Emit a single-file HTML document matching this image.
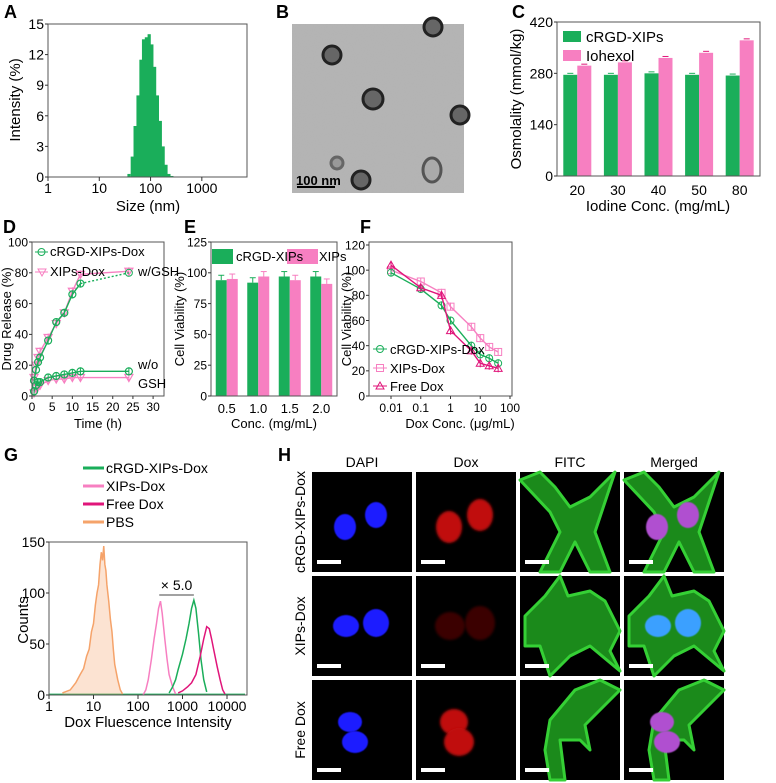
<!DOCTYPE html>
<html><head><meta charset="utf-8"><style>
body{margin:0;background:#fff;}
svg{display:block;font-family:"Liberation Sans",Arial,sans-serif;}
</style></head><body>
<svg id="fig" width="776" height="783" viewBox="0 0 776 783" xmlns="http://www.w3.org/2000/svg">
<defs>
<filter id="noise" x="0" y="0" width="100%" height="100%"><feTurbulence type="fractalNoise" baseFrequency="0.9" numOctaves="2" seed="3"/><feColorMatrix values="0 0 0 0 0.5 0 0 0 0 0.5 0 0 0 0 0.5 0 0 0 0.35 0"/></filter>
<filter id="blur1"><feGaussianBlur stdDeviation="1.2"/></filter>
<filter id="blur2"><feGaussianBlur stdDeviation="0.6"/></filter>
</defs>
<g font-weight="bold" font-size="18" fill="#000">
<text x="4" y="18">A</text>
<text x="276" y="18">B</text>
<text x="512" y="18">C</text>
<text x="3" y="233">D</text>
<text x="184" y="233">E</text>
<text x="360" y="233">F</text>
<text x="4" y="461">G</text>
<text x="278" y="461">H</text>
</g>
<g>
<rect x="292" y="24" width="172" height="169" fill="#b2b2b2"/>
<rect x="292" y="24" width="172" height="169" filter="url(#noise)"/>
<g fill="#666" stroke="#222" stroke-width="3">
<circle cx="332" cy="55" r="9"/><circle cx="373" cy="99" r="10"/><circle cx="433" cy="27" r="9"/>
<circle cx="460" cy="115" r="9"/><circle cx="337" cy="163" r="6" stroke="#666" fill="#999"/><circle cx="361" cy="180" r="9"/>
</g>
<ellipse cx="432" cy="170" rx="9" ry="12" fill="#aaa" stroke="#555" stroke-width="3"/>
<line x1="297" y1="187" x2="335" y2="187" stroke="#000" stroke-width="2"/>
<text x="296" y="185" font-size="13" font-weight="bold">100 nm</text>
</g>
<g id="charts"></g>
<g id="micro"></g>
</svg>
<script>
const sizeA=[38,44,50,57,65,73,83,94,106,120,136,155,176,200,228,260];
const intensityA=[0.3,2,5,8,11.5,13.5,13.7,14,13,10.8,8,5.5,3,1.2,0.3,0.1];
const catC=['20','30','40','50','80'];
const cRGDc=[276,276,280,276,274];
const iohexolC=[301,310,322,336,370];
const timeD=[0.5,1,1.5,2,4,6,8,10,12,24];
const cGSH=[10,17,22,25,36,48,54,66,73,80];
const xGSH=[12,20,25,29,38,47,54,68,79,81];
const cNo=[3,7,9,9,12,13,14,15,16,16];
const xNo=[2,5,6,7,10,11,11,12,12,12];
const catE=['0.5','1.0','1.5','2.0'];
const cRGDe=[94,92,97,97];
const xipsE=[95,97,94,91];
const doseF=[0.01,0.1,0.5,1,5,10,20,40];
const cF=[98,85,72,60,40,33,30,26];
const xF=[100,91,82,71,55,46,39,35];
const fF=[104,86,80,52,36,26,24,22];
const pbsX=[2,3,4,5,6,7,8,9,10,11,12,13,14,15,16,17,18,19,20,22,24,26,28,30,35,40,45];
const pbsY=[2,5,12,20,26,38,45,62,70,88,100,108,128,140,132,146,128,122,108,92,74,62,44,30,15,5,1];
const xipX=[130,150,170,200,230,260,290,320,350,400,450,500,600,700];
const xipY=[0,5,15,35,55,70,85,92,80,55,35,20,8,1];
const crgX=[500,600,700,800,1000,1200,1400,1600,1800,2000,2300,2600,3000,3500];
const crgY=[2,8,15,25,40,55,70,85,93,85,60,35,15,3];
const freeX=[800,1000,1300,1600,2000,2500,3000,3500,4000,4500,5000,6000,7000,8000,9000];
const freeY=[2,4,8,12,20,38,55,67,65,55,45,28,15,5,1];

const G='#1aae5a',P='#f77fc1',DP='#e0157a',O='#f5a36a';
const NS='http://www.w3.org/2000/svg';
const root=document.getElementById('charts');
function mk(tag,at,par){const e=document.createElementNS(NS,tag);for(const k in at)e.setAttribute(k,at[k]);(par||root).appendChild(e);return e;}
function txt(x,y,s,size,anchor,par){const e=mk('text',{x:x,y:y,'font-size':size,'text-anchor':anchor||'middle'},par);e.textContent=s;return e;}
function lin(d0,d1,r0,r1){return v=>r0+(v-d0)/(d1-d0)*(r1-r0);}
function logs(d0,d1,r0,r1){return v=>r0+(Math.log10(v)-Math.log10(d0))/(Math.log10(d1)-Math.log10(d0))*(r1-r0);}
function box(x0,y0,x1,y1,name){const e=mk('rect',{x:x0,y:y0,width:x1-x0,height:y1-y0,fill:'none',stroke:'#555','stroke-width':1});

}
function yticks(sy,vals,x0,fs){vals.forEach(v=>{mk('line',{x1:x0,x2:x0-3,y1:sy(v),y2:sy(v),stroke:'#333'});const t=txt(x0-4,sy(v)+fs*0.36,String(v),fs,'end');

});}
function xlab(x,y,s,fs){const t=txt(x,y,s,fs||14);

}
function ytitle(x,y,s,fs){const t=txt(0,0,s,fs||15);t.setAttribute('transform',`translate(${x},${y}) rotate(-90)`);

}
function xtitle(x,y,s,fs){const t=txt(x,y,s,fs||15);

}

// A
{const sx=logs(1,7600,48,247),sy=lin(0,15,177,24);
sizeA.forEach((s,i)=>{const b=mk('rect',{x:sx(s)-1.6,y:sy(intensityA[i]),width:3.2,height:177-sy(intensityA[i]),fill:G});

});
box(48,24,247,177,'plot-a');
yticks(sy,[0,3,6,9,12,15],48,14);
[1,10,100,1000].forEach(v=>{mk('line',{x1:sx(v),x2:sx(v),y1:177,y2:181,stroke:'#333'});xlab(sx(v),193,String(v));});
ytitle(20,100,'Intensity (%)');xtitle(148,211,'Size (nm)');}

// C
{const sy=lin(0,420,176,22),x0=557,x1=760,step=(x1-x0)/5;
catC.forEach((c,i)=>{const cx=x0+step*(i+0.5);
const g=mk('rect',{x:cx-14,y:sy(cRGDc[i]),width:14,height:176-sy(cRGDc[i]),fill:G});


const p=mk('rect',{x:cx,y:sy(iohexolC[i]),width:14,height:176-sy(iohexolC[i]),fill:P});


mk('line',{x1:cx-10,x2:cx-4,y1:sy(cRGDc[i]+4),y2:sy(cRGDc[i]+4),stroke:G});
mk('line',{x1:cx+4,x2:cx+10,y1:sy(iohexolC[i]+4),y2:sy(iohexolC[i]+4),stroke:DP});
xlab(cx,195,c);});
box(557,22,760,176,'plot-c');yticks(sy,[0,140,280,420],557,14);
const l1=mk('rect',{x:563,y:31,width:18,height:11,fill:G});


const l2=mk('rect',{x:563,y:50,width:18,height:11,fill:P});


txt(586,42,'cRGD-XIPs',15,'start');txt(586,61,'Iohexol',15,'start');
ytitle(521,99,'Osmolality (mmol/kg)');xtitle(658,211,'Iodine Conc. (mg/mL)');}

// D
{const sx=lin(0,32.7,32,164),sy=lin(0,100,396,242);
function series(t,v,col,mark,name){
const pl=mk('polyline',{points:t.map((x,i)=>sx(x)+','+sy(v[i])).join(' '),fill:'none',stroke:col,'stroke-width':1.4});


t.forEach((x,i)=>{const X=sx(x),Y=sy(v[i]);mk('line',{x1:X,x2:X,y1:Y-4,y2:Y+4,stroke:col});
if(mark==='c')mk('circle',{cx:X,cy:Y,r:3.5,fill:'none',stroke:col,'stroke-width':1.2});
else mk('polygon',{points:`${X-4},${Y-3} ${X+4},${Y-3} ${X},${Y+4}`,fill:'none',stroke:col,'stroke-width':1.2});});}
series(timeD,xGSH,P,'t','xips-gsh-line');
series(timeD.slice(0,9),cGSH.slice(0,9),G,'c','crgd-gsh-line');
mk('line',{x1:sx(12),y1:sy(cGSH[8]),x2:sx(24),y2:sy(cGSH[9]),stroke:G,'stroke-dasharray':'2,2','stroke-width':1.4});
mk('circle',{cx:sx(24),cy:sy(cGSH[9]),r:3.5,fill:'none',stroke:G});
series(timeD,xNo,P,'t','xips-nogsh-line');series(timeD,cNo,G,'c','crgd-nogsh-line');
box(32,242,164,396,'plot-d');yticks(sy,[0,20,40,60,80,100],32,12);
[0,5,10,15,20,25,30].forEach(v=>{mk('line',{x1:sx(v),x2:sx(v),y1:396,y2:399,stroke:'#333'});xlab(sx(v),411,String(v),12);});
mk('line',{x1:35,x2:48,y1:252,y2:252,stroke:G});mk('circle',{cx:41.5,cy:252,r:3.5,fill:'none',stroke:G});
mk('line',{x1:35,x2:48,y1:272,y2:272,stroke:P});mk('polygon',{points:'38,269 46,269 42,276',fill:'none',stroke:P});
txt(50,256,'cRGD-XIPs-Dox',13,'start');txt(50,276,'XIPs-Dox',13,'start');
txt(138,276,'w/GSH',13,'start');txt(138,369,'w/o',13,'start');txt(138,388,'GSH',13,'start');
ytitle(11,319,'Drug Release (%)',13);xtitle(98,428,'Time (h)',13);}

// E
{const sy=lin(0,125,396,242),x0=211,x1=337,step=(x1-x0)/4;
catE.forEach((c,i)=>{const cx=x0+step*(i+0.5);
const g=mk('rect',{x:cx-11,y:sy(cRGDe[i]),width:11,height:396-sy(cRGDe[i]),fill:G});


const p=mk('rect',{x:cx,y:sy(xipsE[i]),width:11,height:396-sy(xipsE[i]),fill:P});


[[cx-5.5,cRGDe[i],G],[cx+5.5,xipsE[i],P]].forEach(a=>{mk('line',{x1:a[0],x2:a[0],y1:sy(a[1]),y2:sy(a[1]+4),stroke:a[2]});mk('line',{x1:a[0]-3,x2:a[0]+3,y1:sy(a[1]+4),y2:sy(a[1]+4),stroke:a[2]});});
xlab(cx,413,c,13);});
box(211,242,337,396,'plot-e');yticks(sy,[0,25,50,75,100,125],211,12);
const l1=mk('rect',{x:212,y:249,width:21,height:15,fill:G});


const l2=mk('rect',{x:287,y:249,width:31,height:15,fill:P});


txt(236,261,'cRGD-XIPs',13,'start');txt(319,261,'XIPs',13,'start');
ytitle(184,319,'Cell Viability (%)',13);xtitle(274,428,'Conc. (mg/mL)',13);}

// F
{const sx=logs(0.01,100,391,510),sy=lin(0,120,396,245);
function series(v,col,mark,name){
const pl=mk('polyline',{points:doseF.map((x,i)=>sx(x)+','+sy(v[i])).join(' '),fill:'none',stroke:col,'stroke-width':1.4});


doseF.forEach((x,i)=>{const X=sx(x),Y=sy(v[i]);mk('line',{x1:X,x2:X,y1:Y-4,y2:Y+4,stroke:col});
if(mark==='c')mk('circle',{cx:X,cy:Y,r:3.5,fill:'none',stroke:col});
else if(mark==='s')mk('rect',{x:X-3.5,y:Y-3.5,width:7,height:7,fill:'none',stroke:col});
else mk('polygon',{points:`${X-4},${Y+3} ${X+4},${Y+3} ${X},${Y-4}`,fill:'none',stroke:col});});}
series(xF,P,'s','xips-dox-line');series(cF,G,'c','crgd-dox-line');series(fF,DP,'t','free-dox-line');
box(369,242,512,396,'plot-f');yticks(sy,[0,20,40,60,80,100,120],369,12);
[0.01,0.1,1,10,100].forEach(v=>{mk('line',{x1:sx(v),x2:sx(v),y1:396,y2:399,stroke:'#333'});xlab(sx(v),412,String(v),12);});
[[G,'c','cRGD-XIPs-Dox',349],[P,'s','XIPs-Dox',368],[DP,'t','Free Dox',386]].forEach(a=>{const y=a[3];mk('line',{x1:373,x2:387,y1:y,y2:y,stroke:a[0]});
if(a[1]==='c')mk('circle',{cx:380,cy:y,r:3.5,fill:'none',stroke:a[0]});else if(a[1]==='s')mk('rect',{x:376.5,y:y-3.5,width:7,height:7,fill:'none',stroke:a[0]});else mk('polygon',{points:`376,${y+3} 384,${y+3} 380,${y-4}`,fill:'none',stroke:a[0]});
txt(390,y+5,a[2],13,'start');});
ytitle(351,319,'Cell Viability (%)',13);xtitle(460,428,'Dox Conc. (\u03bcg/mL)',13);}

// G
{const sx=logs(1,10000,49,227),sy=lin(0,150,695,542);
mk('line',{x1:49,x2:245,y1:sy(0.8),y2:sy(0.8),stroke:G,'stroke-width':1.2});
function hist(X,Y,col,name,fill){if(fill){mk('polygon',{points:sx(X[0])+','+sy(0)+' '+X.map((x,i)=>sx(x)+','+sy(Y[i])).join(' ')+' '+sx(X[X.length-1])+','+sy(0),fill:col,'fill-opacity':0.3});}
const pl=mk('polyline',{points:X.map((x,i)=>sx(x)+','+sy(Y[i])).join(' '),fill:'none',stroke:col,'stroke-width':1.5});

}
hist(pbsX,pbsY,O,'pbs-histogram',true);hist(xipX,xipY,P,'xips-histogram');hist(crgX,crgY,G,'crgd-histogram');hist(freeX,freeY,DP,'free-dox-histogram');
box(49,542,247,695,'plot-g');yticks(sy,[0,50,100,150],49,14);
[1,10,100,1000,10000].forEach(v=>{mk('line',{x1:sx(v),x2:sx(v),y1:695,y2:699,stroke:'#333'});xlab(sx(v),711,String(v));});
mk('line',{x1:sx(300),x2:sx(1800),y1:sy(98),y2:sy(98),stroke:'#444'});txt((sx(300)+sx(1800))/2,sy(103),'\u00d7 5.0',14);
[[G,'cRGD-XIPs-Dox',468],[P,'XIPs-Dox',486],[DP,'Free Dox',504],[O,'PBS',522]].forEach(a=>{const l=mk('line',{x1:83,x2:104,y1:a[2],y2:a[2],stroke:a[0],'stroke-width':3});


txt(106,a[2]+5,a[1],14,'start');});
ytitle(28,620,'Counts');xtitle(148,727,'Dox Fluescence Intensity');}

// H
{const M=document.getElementById('micro');
const colX=[312,416,520,624],rowY=[472,576,680],W=100,H=100;
['DAPI','Dox','FITC','Merged'].forEach((s,i)=>{const t=txt(colX[i]+50,467,s,14,'middle',M);

});
['cRGD-XIPs-Dox','XIPs-Dox','Free Dox'].forEach((s,r)=>{const t=txt(0,0,s,14,'middle',M);t.setAttribute('transform',`translate(305,${rowY[r]+50}) rotate(-90)`);

});
const nuc=[[[-17,5,11,13],[14,-7,11,13]],[[-16,0,13,11],[14,-3,13,14]],[[-12,-8,12,10],[-7,12,13,11]]];
const cellPts=['0,8 30,40 40,60 20,100 40,100 55,70 70,100 90,100 75,60 85,30 95,0 70,25 50,35 35,15 20,0','5,40 25,20 40,0 48,20 70,15 85,25 100,55 90,75 100,95 70,70 50,80 30,100 20,70 5,70','30,100 25,70 30,40 55,10 80,0 100,10 80,30 65,45 70,70 60,60 40,60 45,100'];
rowY.forEach((y,r)=>colX.forEach((x,c)=>{
const g=mk('g',{},M);


mk('rect',{x:x,y:y,width:W,height:H,fill:'#000'},g);
if(c>=2)mk('polygon',{points:cellPts[r],transform:`translate(${x},${y})`,fill:'#1b8a1b',stroke:'#35d035','stroke-width':3,'stroke-linejoin':'round'},g);
nuc[r].forEach(n=>{const cx=x+50+n[0],cy=y+50+n[1];
if(c===0)mk('ellipse',{cx:cx,cy:cy,rx:n[2],ry:n[3],fill:'#1a1aff',filter:'url(#blur2)'},g);
if(c===1)mk('ellipse',{cx:cx,cy:cy,rx:n[2]+2,ry:n[3]+3,fill:r===1?'#3a0000':'#c01010',filter:'url(#blur1)'},g);
if(c===3)mk('ellipse',{cx:cx,cy:cy,rx:n[2],ry:n[3],fill:r===1?'#3aa0ff':'#b050d0',filter:'url(#blur2)'},g);});
mk('rect',{x:x+5,y:y+H-12,width:24,height:4,fill:'#fff'},g);}));}
</script>
</body></html>
